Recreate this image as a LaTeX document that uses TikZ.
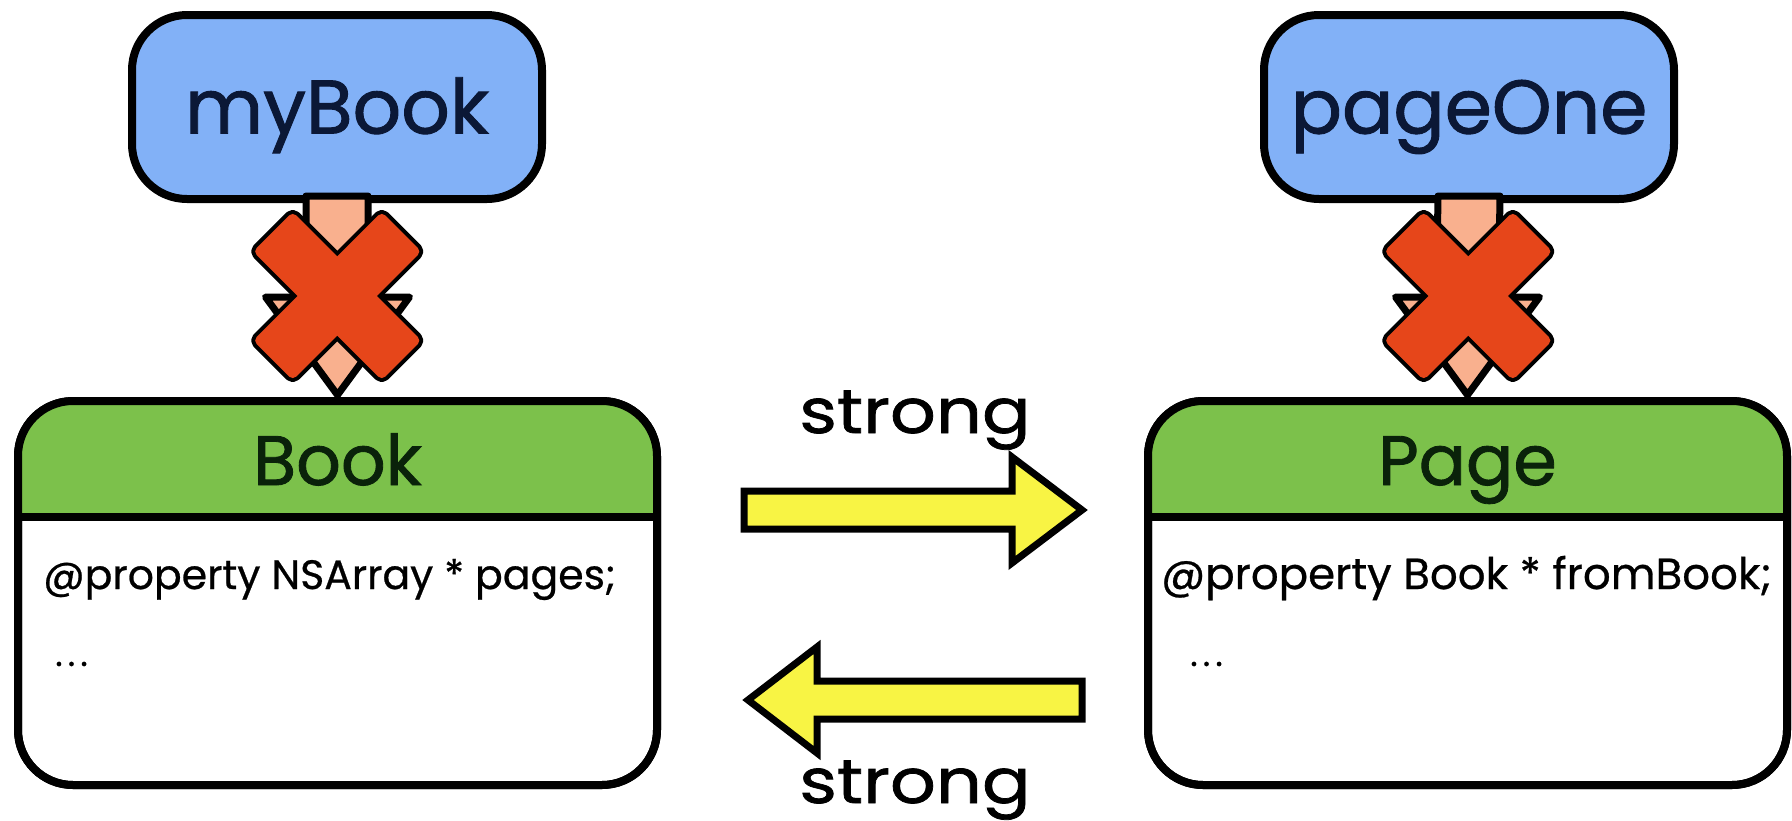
\documentclass[tikz,border=0pt]{standalone}
\usepackage{fontspec}
\setmainfont{Poppins}
\newfontfamily\lblfont{Poppins}[FakeBold=1.2]
\newfontfamily\widelblfont{Poppins}[FakeBold=1.2, FakeStretch=1.16]
\newfontfamily\codefont{Poppins}[FakeBold=0.6]
\usetikzlibrary{calc}

\definecolor{objblue}{HTML}{82B1F7}
\definecolor{hdrgreen}{HTML}{7CC14B}
\definecolor{refyellow}{HTML}{F8F444}
\definecolor{crossred}{HTML}{E6461A}
\definecolor{refsalmon}{HTML}{F9B08E}
\definecolor{navytext}{HTML}{0B1836}
\definecolor{greentext}{HTML}{0A220A}

\tikzset{
  objbox/.style={draw=black, line width=8pt, fill=objblue, rounded corners=55pt,
    minimum width=410pt, minimum height=184pt, outer sep=0pt, inner sep=0pt,
    text=navytext, font=\lblfont\fontsize{76}{80}\selectfont, text height=53pt, text depth=0pt},
  classbox/.style={draw=black, line width=8pt, fill=white, rounded corners=55pt,
    minimum width=639pt, minimum height=384pt, outer sep=0pt, inner sep=0pt},
  classtitle/.style={text=greentext, font=\lblfont\fontsize{70}{74}\selectfont, inner sep=0pt, anchor=base},
  proptext/.style={text=black, inner sep=0pt, anchor=base west},
  dotstext/.style={text=black, font=\codefont\fontsize{36}{40}\selectfont, inner sep=0pt, anchor=base west},
  reflabel/.style={text=black, font=\widelblfont\fontsize{62}{66}\selectfont, inner sep=0pt, anchor=base},
  fatarrow/.style={draw=black, line width=7pt, fill=refyellow, line join=miter},
  ptrarrow/.style={draw=black, line width=7pt, fill=refsalmon, line join=round},
  crossline/.style={draw=black, line width=8pt, line join=round, rounded corners=5pt},
  crossfill/.style={fill=crossred, rounded corners=5pt},
}

\begin{document}
\begin{tikzpicture}[x=1pt, y=-1pt]
\useasboundingbox[fill=white] (0,0) rectangle (1792,820);

% class boxes with green title bands
\foreach \cname/\cx in {Book/337.5, Page/1467.5} {
  \node[classbox] (\cname) at (\cx,593) {};
  \begin{scope}
    \clip[rounded corners=55pt] (\cname.south west) rectangle (\cname.north east);
    \fill[hdrgreen] (\cname.north west) rectangle ($(\cname.north east)+(0,116)$);
  \end{scope}
  \draw[line width=8pt, rounded corners=55pt] (\cname.south west) rectangle (\cname.north east);
  \draw[line width=8pt] ($(\cname.north west)+(0,116)$) -- ($(\cname.north east)+(0,116)$);
}

\node[classtitle] (BookTitle) at ($(Book.north)+(0,84)$) {Book};
\node[classtitle] (PageTitle) at ($(Page.north)+(0,84)$) {Page};
\node[proptext, font=\codefont\fontsize{41}{44}\selectfont] (BookProp)
  at ($(Book.north west)+(25,188)$) {@property NSArray * pages;};
\node[proptext, font=\codefont\fontsize{43.5}{46}\selectfont] (PageProp)
  at ($(Page.north west)+(13,188)$) {@property Book * fromBook;};
\node[dotstext] (BookDots) at ($(Book.north west)+(37,265)$) {.\kern5pt.\kern5pt.};
\node[dotstext] (PageDots) at ($(Page.north west)+(42,265)$) {.\kern5pt.\kern5pt.};

% object (variable) boxes
\node[objbox] (myBook) at (337,107) {myBook};
\node[objbox] (pageOne) at (1469,107) {pageOne};

% pointer arrows from each variable to its object, each crossed out
\foreach \obj/\cls/\xn in {myBook/Book/xBook, pageOne/Page/xPage} {
  \draw[ptrarrow] ($(\obj.south)+(-31,-3)$) -- ($(\cls.north)+(-31,-104)$)
    -- ($(\cls.north)+(-72,-104)$) -- ($(\cls.north)+(0,-6)$)
    -- ($(\cls.north)+(72,-104)$) -- ($(\cls.north)+(31,-104)$)
    -- ($(\obj.south)+(31,-3)$) -- cycle;
  \coordinate (\xn) at ($(\obj.south)!0.5!(\cls.north)+(0,-4)$);
  \begin{scope}[shift={(\xn)}]
    \foreach \a in {45,-45}
      \draw[crossline, rotate=\a] (-91,-28) -- (91,-28) -- (91,28) -- (-91,28) -- cycle;
    \foreach \a in {45,-45}
      \fill[crossfill, rotate=\a] (-91,-28) -- (91,-28) -- (91,28) -- (-91,28) -- cycle;
  \end{scope}
}

% strong references between the classes
\coordinate (s1a) at ($(Book.east)+(87,-83)$);
\coordinate (s1b) at ($(Page.west)+(-66,-83)$);
\coordinate (s2a) at ($(Page.west)+(-66,107)$);
\coordinate (s2b) at ($(Book.east)+(91,107)$);

\draw[fatarrow] ($(s1a)+(0,-19)$) -- ($(s1b)+(-70,-19)$) -- ($(s1b)+(-70,-53)$)
  -- (s1b) -- ($(s1b)+(-70,53)$) -- ($(s1b)+(-70,19)$) -- ($(s1a)+(0,19)$) -- cycle;
\draw[fatarrow] ($(s2a)+(0,-19)$) -- ($(s2b)+(69,-19)$) -- ($(s2b)+(69,-53)$)
  -- (s2b) -- ($(s2b)+(69,53)$) -- ($(s2b)+(69,19)$) -- ($(s2a)+(0,19)$) -- cycle;

\node[reflabel] (strongTop) at (915,433) {strong};
\node[reflabel] (strongBottom) at (915,803) {strong};
\end{tikzpicture}
\end{document}
